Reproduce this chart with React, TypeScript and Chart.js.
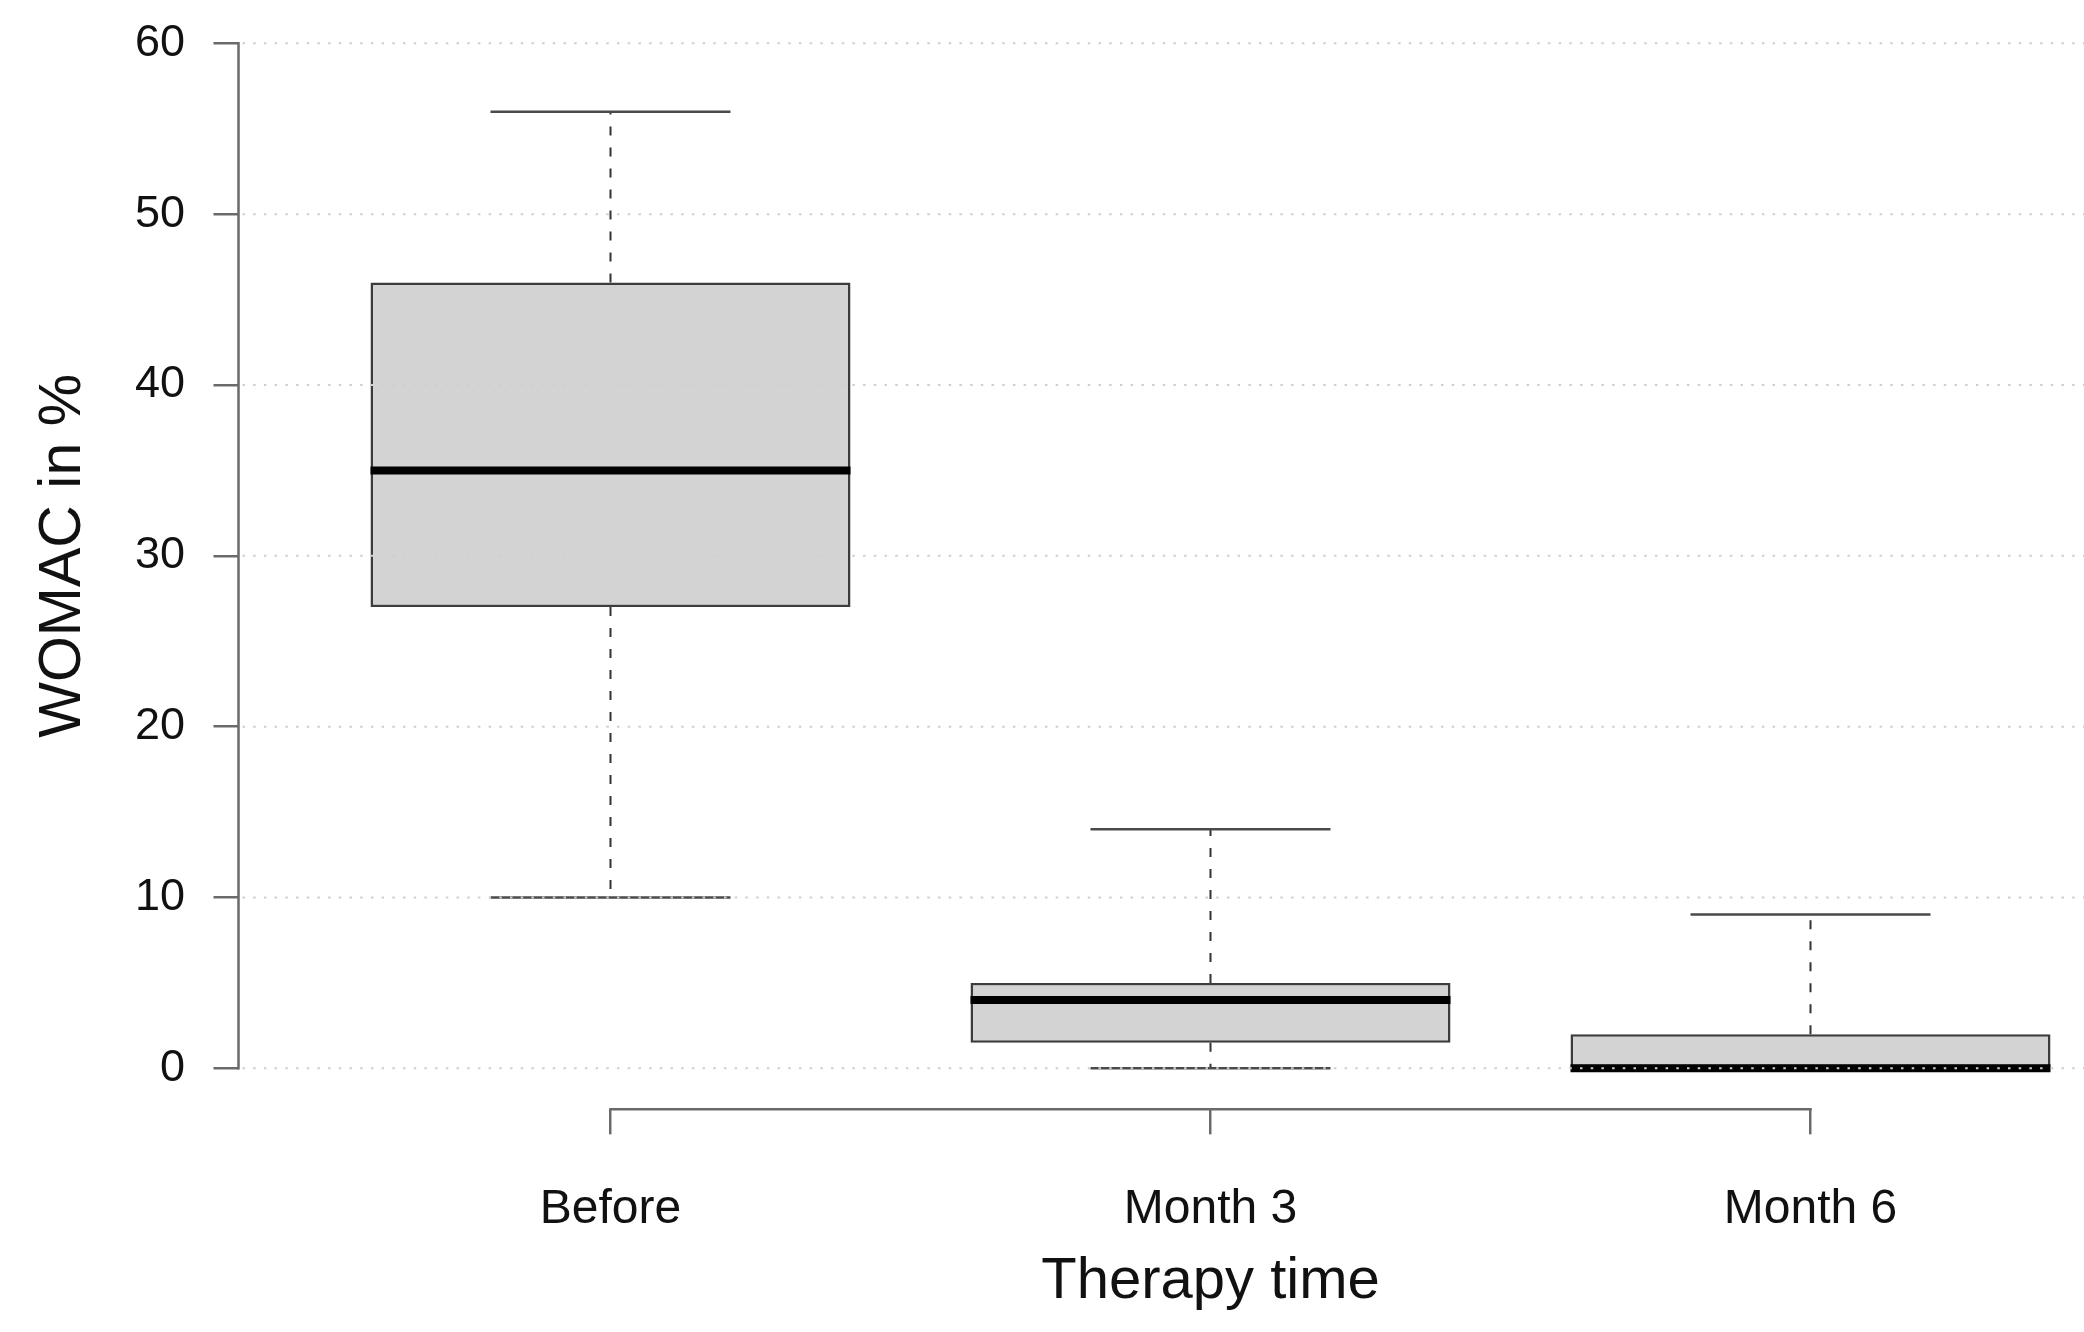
import React, { useEffect, useRef } from 'react';
import { Chart, registerables } from 'chart.js';

Chart.register(...registerables);

// ---- data ----
const CATEGORIES = ['Before', 'Month 3', 'Month 6'];
const POSITIONS = [1, 2, 3];
const WHISKER_LOW = [10, 0, 0];
const Q1 = [27, 1.5, 0];
const MEDIAN = [35, 4, 0];
const Q3 = [46, 5, 2];
const WHISKER_HIGH = [56, 14, 9];
const Y_TICKS = [0, 10, 20, 30, 40, 50, 60];

const X_TITLE = 'Therapy time';
const Y_TITLE = 'WOMAC in %';

// ---- styles ----
const FONT = "'Liberation Sans', Arial, Helvetica, sans-serif";
const AXIS_COLOR = '#6a6a6a';
const BOX_FILL = '#d3d3d3';
const BOX_BORDER = '#3c3c3c';
const WHISKER_COLOR = '#333333';
const GRID_COLOR = '#cfcfcf';
const BOX_HALF = 0.4; // boxwex 0.8 in x units
const STAPLE_HALF = 0.2;

const boxExtras = {
  id: 'boxExtras',
  afterDatasetsDraw(chart: any) {
    const { ctx, chartArea } = chart;
    const xs = chart.scales.x;
    const ys = chart.scales.y;
    ctx.save();
    POSITIONS.forEach((pos, i) => {
      const cx = xs.getPixelForValue(pos);
      const sh = xs.getPixelForValue(pos + STAPLE_HALF) - cx;
      const bh = xs.getPixelForValue(pos + BOX_HALF) - cx;
      // whiskers
      ctx.strokeStyle = WHISKER_COLOR;
      ctx.lineWidth = 2;
      ctx.setLineDash([9, 12]);
      ctx.beginPath();
      ctx.moveTo(cx, ys.getPixelForValue(Q3[i]));
      ctx.lineTo(cx, ys.getPixelForValue(WHISKER_HIGH[i]));
      ctx.moveTo(cx, ys.getPixelForValue(Q1[i]));
      ctx.lineTo(cx, ys.getPixelForValue(WHISKER_LOW[i]));
      ctx.stroke();
      ctx.setLineDash([]);
      // staples
      ctx.strokeStyle = '#4a4a4a';
      ctx.lineWidth = 2.5;
      ctx.beginPath();
      const yh = ys.getPixelForValue(WHISKER_HIGH[i]);
      const yl = ys.getPixelForValue(WHISKER_LOW[i]);
      ctx.moveTo(cx - sh, yh);
      ctx.lineTo(cx + sh, yh);
      ctx.moveTo(cx - sh, yl);
      ctx.lineTo(cx + sh, yl);
      ctx.stroke();
      // median
      ctx.strokeStyle = '#000000';
      ctx.lineWidth = 8;
      ctx.lineCap = 'butt';
      ctx.beginPath();
      const ym = ys.getPixelForValue(MEDIAN[i]);
      ctx.moveTo(cx - bh, ym);
      ctx.lineTo(cx + bh, ym);
      ctx.stroke();
    });
    // dotted grid on top (as R's grid())
    ctx.strokeStyle = GRID_COLOR;
    ctx.lineWidth = 2;
    ctx.setLineDash([2.5, 8.2]);
    Y_TICKS.forEach((v) => {
      const yy = ys.getPixelForValue(v);
      ctx.beginPath();
      ctx.moveTo(chartArea.left + 4, yy);
      ctx.lineTo(chartArea.right, yy);
      ctx.stroke();
    });
    ctx.setLineDash([]);
    // axis lines spanning first..last tick (R style)
    ctx.strokeStyle = AXIS_COLOR;
    ctx.lineWidth = 2.5;
    ctx.beginPath();
    ctx.moveTo(chartArea.left, ys.getPixelForValue(Y_TICKS[0]) + 1.2);
    ctx.lineTo(chartArea.left, ys.getPixelForValue(Y_TICKS[Y_TICKS.length - 1]) - 1.2);
    ctx.moveTo(xs.getPixelForValue(POSITIONS[0]) - 1.2, chartArea.bottom);
    ctx.lineTo(xs.getPixelForValue(POSITIONS[POSITIONS.length - 1]) + 1.2, chartArea.bottom);
    ctx.stroke();
    ctx.restore();
  },
};

export default function App() {
  const canvasRef = useRef<HTMLCanvasElement | null>(null);

  useEffect(() => {
    if (!canvasRef.current) return;
    const chart = new Chart(canvasRef.current, {
      type: 'bar',
      data: {
        datasets: [
          {
            label: 'WOMAC',
            data: POSITIONS.map((p, i) => ({ x: p, y: [Q1[i], Q3[i]] })) as any,
            backgroundColor: BOX_FILL,
            borderColor: BOX_BORDER,
            borderWidth: 2.5,
            borderSkipped: false,
            barPercentage: 2 * BOX_HALF,
            categoryPercentage: 1,
          },
        ],
      },
      options: {
        animation: false,
        responsive: false,
        devicePixelRatio: 1,
        layout: { padding: { top: 2.3, left: 0, right: 1.5, bottom: 0 } },
        plugins: {
          legend: { display: false },
          tooltip: { enabled: false },
        },
        scales: {
          x: {
            type: 'linear',
            min: 0.38,
            max: 3.62,
            offset: false,
            afterBuildTicks: (s: any) => {
              s.ticks = POSITIONS.map((v) => ({ value: v }));
            },
            afterFit: (s: any) => {
              s.height = 222.7;
              s.paddingLeft = 0;
              s.paddingRight = 0;
            },
            border: { display: false },
            grid: {
              offset: false,
              drawOnChartArea: false,
              drawTicks: true,
              tickLength: 25,
              color: AXIS_COLOR,
              tickColor: AXIS_COLOR,
              lineWidth: 2.5,
              tickWidth: 2.5,
            },
            ticks: {
              padding: 47,
              maxRotation: 0,
              minRotation: 0,
              autoSkip: false,
              color: '#111111',
              font: { family: FONT, size: 48 },
              callback: (v: any) => {
                const k = POSITIONS.indexOf(Number(v));
                return k >= 0 ? CATEGORIES[k] : '';
              },
            },
            title: {
              display: true,
              text: X_TITLE,
              color: '#111111',
              font: { family: FONT, size: 58 },
              padding: { top: 0, bottom: 15 },
            },
          },
          y: {
            type: 'linear',
            min: -2.4,
            max: 62.4,
            afterBuildTicks: (s: any) => {
              s.ticks = Y_TICKS.map((v) => ({ value: v }));
            },
            afterFit: (s: any) => {
              s.width = 238.5;
              s.paddingTop = 0;
              s.paddingBottom = 0;
            },
            border: { display: false },
            grid: {
              drawOnChartArea: false,
              drawTicks: true,
              tickLength: 25,
              color: AXIS_COLOR,
              tickColor: AXIS_COLOR,
              lineWidth: 2.5,
              tickWidth: 2.5,
            },
            ticks: {
              padding: 28.5,
              color: '#111111',
              font: { family: FONT, size: 45 },
              callback: (v: any) => String(v),
            },
            title: {
              display: true,
              text: Y_TITLE,
              color: '#111111',
              font: { family: FONT, size: 59 },
              padding: { top: 28.6, bottom: 0 },
            },
          },
        },
      },
      plugins: [boxExtras],
    } as any);
    return () => chart.destroy();
  }, []);

  return (
    <div
      style={{
        position: 'fixed',
        left: 0,
        top: 0,
        width: 2084,
        height: 1332,
        overflow: 'hidden',
        background: '#ffffff',
      }}
    >
      <canvas ref={canvasRef} width={2184} height={1332} style={{ display: 'block' }} />
    </div>
  );
}
